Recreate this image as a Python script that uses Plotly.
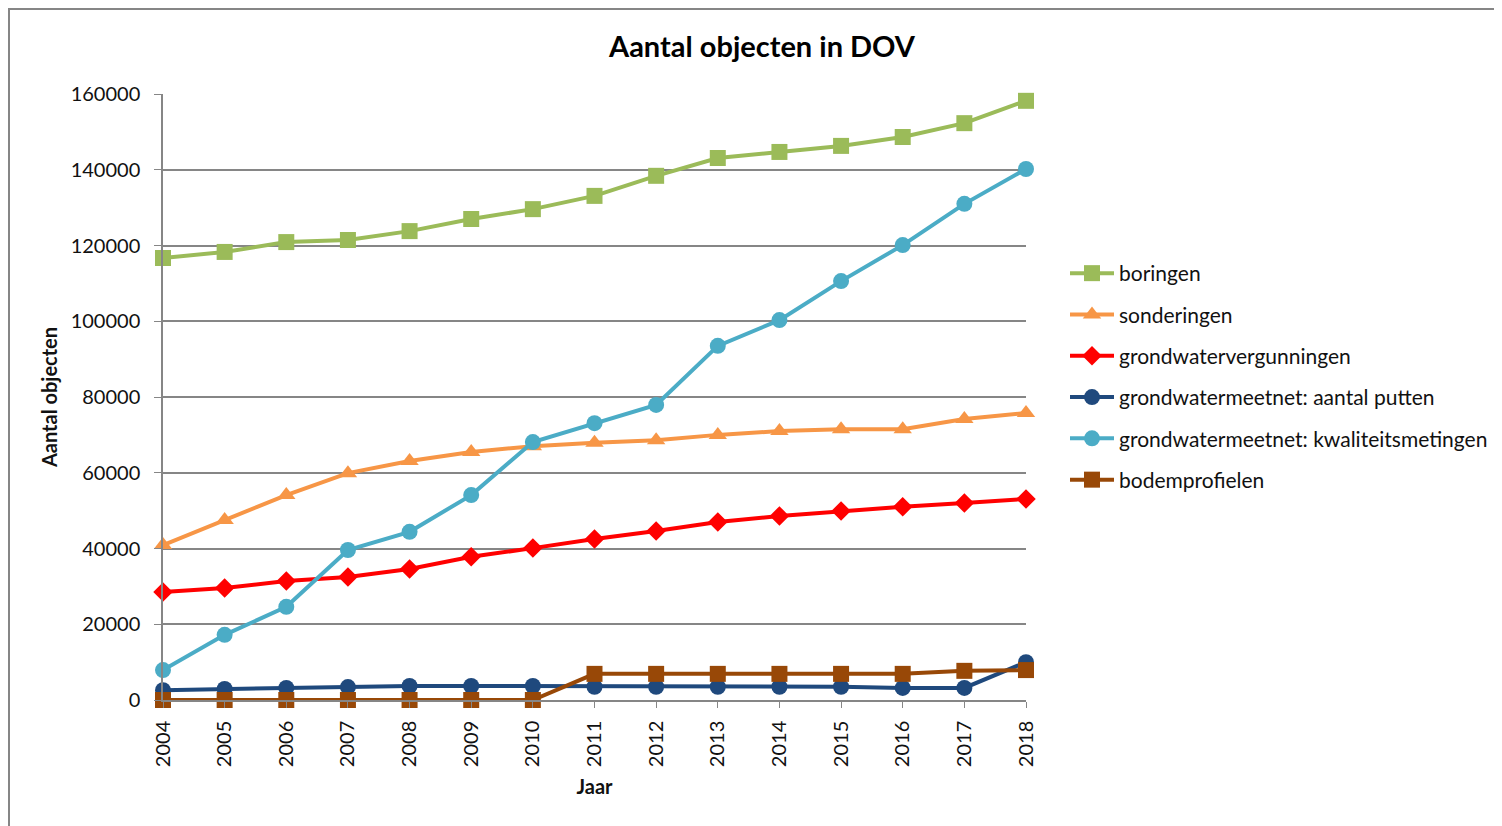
import plotly.graph_objects as go

years = list(range(2004, 2019))
boringen = [116700, 118300, 120900, 121450, 123800, 127000, 129600, 133100, 138400, 143100, 144700, 146300, 148650, 152300, 158200]
sonderingen = [40900, 47500, 54100, 59900, 63100, 65500, 67000, 67900, 68600, 70000, 71000, 71500, 71500, 74200, 75800]
vergunningen = [28500, 29600, 31400, 32500, 34600, 37800, 40100, 42500, 44600, 47000, 48600, 49900, 51000, 52000, 53100]
putten = [2600, 2900, 3200, 3400, 3700, 3700, 3700, 3500, 3500, 3500, 3500, 3500, 3200, 3200, 10000]
kwaliteit = [7900, 17200, 24600, 39600, 44400, 54100, 68100, 73100, 77900, 93500, 100300, 110600, 120100, 131000, 140200]
bodem = [0, 0, 0, 0, 0, 0, 0, 6900, 6900, 6900, 6900, 6900, 6900, 7700, 7900]

series_names = ["boringen", "sonderingen", "grondwatervergunningen",
                "grondwatermeetnet: aantal putten", "grondwatermeetnet: kwaliteitsmetingen",
                "bodemprofielen"]
series_values = [boringen, sonderingen, vergunningen, putten, kwaliteit, bodem]
colors = ["#9BBB59", "#F79646", "#FF0000", "#1F497D", "#4BACC6", "#984807"]
symbols = ["square", "triangle-up", "diamond", "circle", "circle", "square"]
sizes = [16, 16, 15, 16, 16, 16]

FONT = "Lato"
W, H = 1494, 818
L, T, PW, PH = 155, 86, 863, 606

fig = go.Figure()
for i, (name, vals) in enumerate(zip(series_names, series_values)):
    fig.add_trace(go.Scatter(
        x=years, y=vals, name=name, mode="lines+markers",
        line=dict(color=colors[i], width=4),
        marker=dict(symbol=symbols[i], size=sizes[i], color=colors[i]),
        cliponaxis=False, legendgroup=str(i),
    ))

fig.update_layout(
    width=W, height=H,
    margin=dict(l=L, r=W - L - PW, t=T, b=H - T - PH, autoexpand=False),
    paper_bgcolor="white", plot_bgcolor="white",
    font=dict(family=FONT, color="#222222", size=20),
    title=dict(text="<b>Aantal objecten in DOV</b>", x=754 / W, xanchor="center",
               y=1 - 39 / H, yanchor="middle", font=dict(size=29, color="#000000")),
    legend=dict(xref="container", yref="container", x=1057 / W, xanchor="left",
                y=1 - 245 / H, yanchor="top",
                font=dict(size=21, color="#111111"), tracegroupgap=11,
                itemwidth=44, bgcolor="rgba(0,0,0,0)"),
    showlegend=True,
)
fig.update_xaxes(
    range=[2004, 2018], tickmode="array", tickvals=years, ticktext=[str(y) for y in years],
    tickangle=-90, showgrid=False, showline=True, linecolor="#868686", linewidth=1.5,
    ticks="outside", ticklen=6, tickcolor="#868686", tickfont=dict(size=20, color="#111111"),
    ticklabelstandoff=5,
    title=dict(text="<b>Jaar</b>", font=dict(size=20, color="#111111"), standoff=14), zeroline=False,
)
fig.update_yaxes(
    range=[0, 160000], tickvals=list(range(0, 160001, 20000)), tickformat="d",
    showgrid=True, gridcolor="#868686", gridwidth=1.5,
    showline=True, linecolor="#868686", linewidth=1.5,
    ticks="outside", ticklen=7, tickcolor="#868686", tickfont=dict(size=20, color="#111111"),
    ticklabelstandoff=10,
    title=dict(text="<b>Aantal objecten</b>", font=dict(size=20, color="#111111"), standoff=8), zeroline=False,
)
fig.add_shape(type="rect", xref="paper", yref="paper",
              x0=(1 - L) / PW, x1=2.5, y0=-1, y1=(PH + T - 1) / PH,
              line=dict(color="#868686", width=2), fillcolor="rgba(0,0,0,0)", layer="below")
fig.write_html("out.html")
